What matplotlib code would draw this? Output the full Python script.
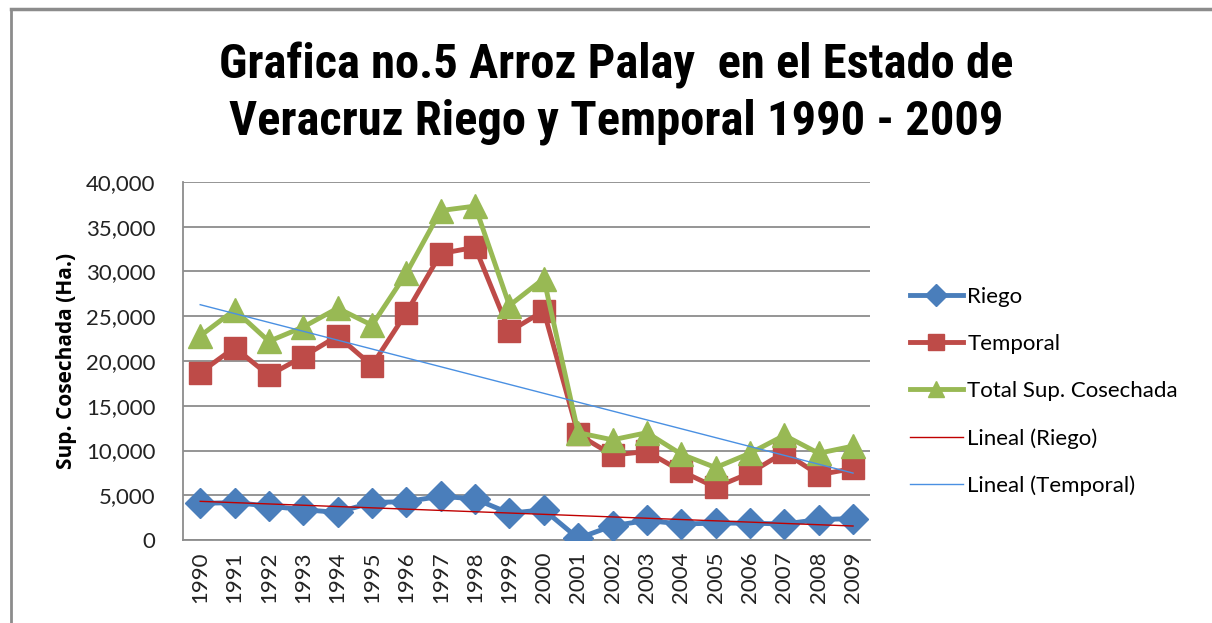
import numpy as np
import matplotlib.pyplot as plt
from matplotlib import font_manager
from matplotlib.ticker import FuncFormatter

years = list(range(1990, 2010))
riego = [4100, 4200, 3800, 3400, 3100, 4200, 4300, 4900, 4600, 3000,
         3400, 200, 1600, 2200, 1800, 1900, 1900, 1800, 2300, 2400]
temporal = [18700, 21500, 18400, 20500, 22800, 19500, 25400, 32000, 32700, 23300,
            25600, 11800, 9500, 9900, 7700, 5900, 7500, 9800, 7300, 8000]
total = [22800, 25700, 22200, 23800, 25900, 24000, 29800, 36800, 37300, 26200,
         29200, 12000, 11200, 12000, 9600, 8100, 9700, 11700, 9700, 10500]

names = {f.name for f in font_manager.fontManager.ttflist}
title_font = 'DejaVu Sans'
for cand in ['Liberation Sans Narrow', 'Roboto Condensed', 'Open Sans Condensed',
             'Noto Sans Condensed', 'DejaVu Sans Condensed', 'Lato']:
    if cand in names:
        title_font = cand
        break
body_font = 'Lato' if 'Lato' in names else 'DejaVu Sans'
plt.rcParams['font.family'] = [body_font, 'DejaVu Sans']

fig = plt.figure(figsize=(12.12, 6.23), dpi=100)
ax = fig.add_axes([0.151, 0.133, 0.567, 0.575])

x = np.arange(len(years))
ax.plot(x, riego, color='#4A7EBB', lw=3.5, marker='D', ms=15, label='Riego', zorder=3)
ax.plot(x, temporal, color='#BE4B48', lw=3.5, marker='s', ms=16, label='Temporal', zorder=3)
ax.plot(x, total, color='#98B954', lw=3.5, marker='^', ms=17, label='Total Sup. Cosechada', zorder=3)

# linear trend lines
p1 = np.polyfit(x, riego, 1)
p2 = np.polyfit(x, temporal, 1)
ax.plot(x, np.polyval(p1, x), color='#C00000', lw=1.0, label='Lineal (Riego)', zorder=4)
ax.plot(x, np.polyval(p2, x), color='#4A90E2', lw=1.0, label='Lineal (Temporal)', zorder=4)

ax.set_xlim(-0.5, len(years) - 0.5)
ax.set_ylim(0, 40000)
ax.set_yticks(range(0, 40001, 5000))
ax.yaxis.set_major_formatter(FuncFormatter(lambda v, p: f'{int(v):,}'))
ax.set_xticks(x)
ax.set_xticklabels([str(y) for y in years], rotation=90)
ax.tick_params(axis='both', length=0, labelsize=16, colors='#222222')
ax.tick_params(axis='y', pad=20)
ax.tick_params(axis='x', pad=8)
ax.grid(axis='y', color='#8C8C8C', lw=1.3)
ax.set_axisbelow(True)
for s in ['top', 'right']:
    ax.spines[s].set_visible(False)
for s in ['left', 'bottom']:
    ax.spines[s].set_color('#8C8C8C')
    ax.spines[s].set_linewidth(1.3)

ax.set_ylabel('Sup. Cosechada (Ha.)', fontsize=15, fontweight='bold', labelpad=6,
              family=['Open Sans', 'DejaVu Sans'])

fig.text(0.508, 0.895, 'Grafica no.5 Arroz Palay  en el Estado de', ha='center', va='center',
         fontsize=35, fontweight='bold', family=[title_font, 'DejaVu Sans'])
fig.text(0.508, 0.805, 'Veracruz Riego y Temporal 1990 - 2009', ha='center', va='center',
         fontsize=35, fontweight='bold', family=[title_font, 'DejaVu Sans'])

leg = fig.legend(loc='upper left', bbox_to_anchor=(0.734, 0.572), frameon=False,
                 fontsize=16, handlelength=2.4, handletextpad=0.2, labelspacing=1.22)
for h in leg.legend_handles:
    h.set_markersize(11)

# outer frame like the original chart border
fig.add_artist(plt.Line2D([0.009, 0.009], [0, 0.985], color='#8C8C8C', lw=2, transform=fig.transFigure))
fig.add_artist(plt.Line2D([0.009, 1.0], [0.985, 0.985], color='#8C8C8C', lw=2.5, transform=fig.transFigure))

fig.savefig('out.png', dpi=100)
